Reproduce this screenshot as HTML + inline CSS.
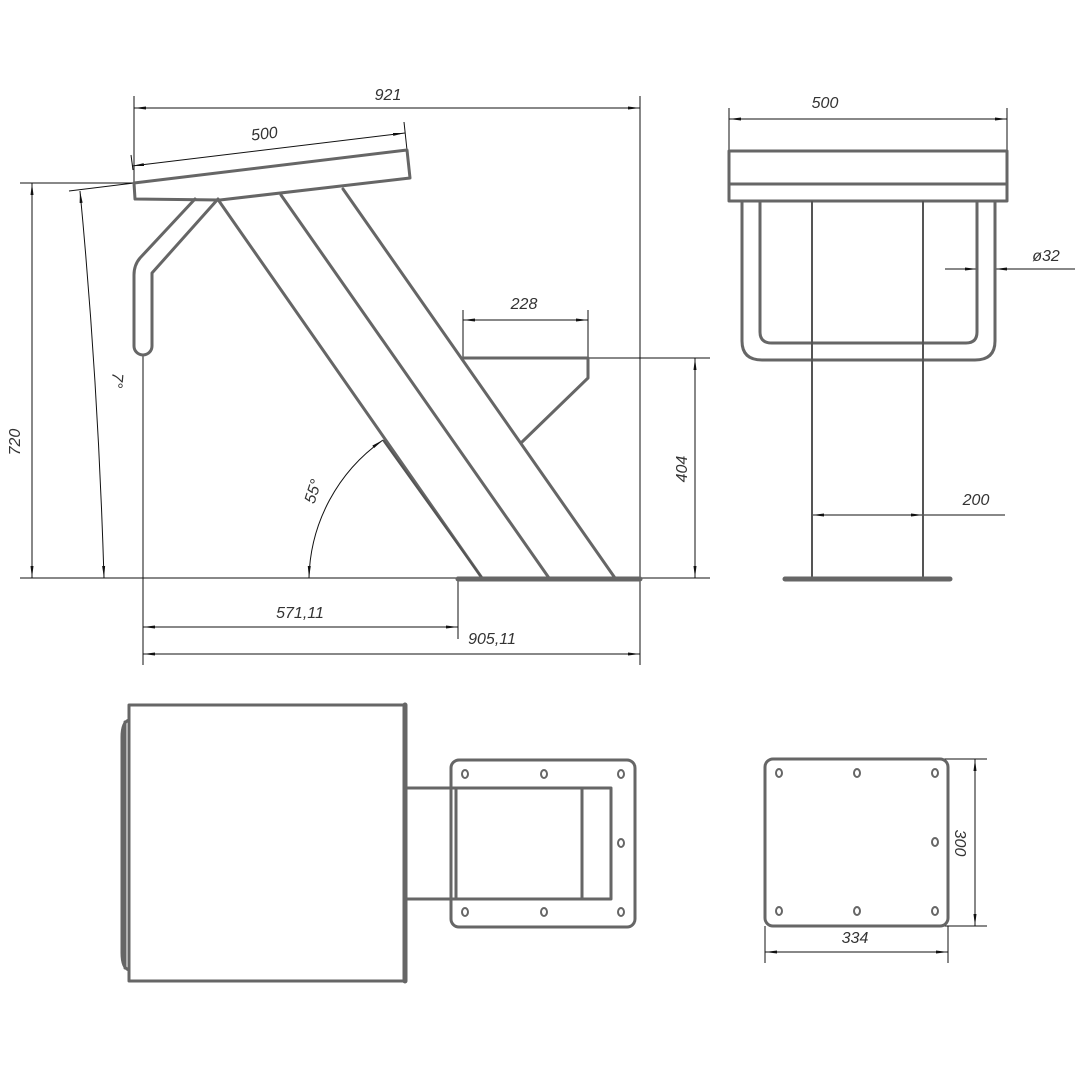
<!DOCTYPE html>
<html><head><meta charset="utf-8"><style>
html,body{margin:0;padding:0;background:#fff}
svg{display:block}
text{font-family:"Liberation Sans",sans-serif;font-style:italic;font-size:16px;fill:#333}
</style></head><body>
<svg width="1080" height="1080" viewBox="0 0 1080 1080" xmlns="http://www.w3.org/2000/svg">
<defs>
<marker id="a" viewBox="0 0 12 4" refX="12" refY="2" markerWidth="12" markerHeight="4" orient="auto-start-reverse" markerUnits="userSpaceOnUse"><path d="M0,0.5 L12,2 L0,3.5z" fill="#111"/></marker>
</defs>
<rect width="1080" height="1080" fill="#fff"/>
<!-- thin dimension lines -->
<g stroke="#111" stroke-width="1" fill="none">
<!-- 921 -->
<line x1="134" y1="96" x2="134" y2="183"/>
<line x1="640" y1="96" x2="640" y2="665"/>
<line x1="134" y1="108" x2="640" y2="108" marker-start="url(#a)" marker-end="url(#a)"/>
<!-- 500 slanted -->
<line x1="131" y1="155" x2="133" y2="170"/>
<line x1="404" y1="122" x2="407" y2="150"/>
<line x1="132" y1="166" x2="405" y2="133" marker-start="url(#a)" marker-end="url(#a)"/>
<!-- 720 -->
<line x1="20" y1="183" x2="134" y2="183"/>
<line x1="20" y1="578" x2="640" y2="578"/>
<line x1="32" y1="183" x2="32" y2="578" marker-start="url(#a)" marker-end="url(#a)"/>
<!-- 7 deg -->
<line x1="69" y1="191" x2="134" y2="183"/>
<path d="M80,191 Q98,380 104,578" marker-start="url(#a)" marker-end="url(#a)"/>
<!-- vertical ext from handle -->
<line x1="143" y1="354" x2="143" y2="665"/>
<!-- 55 deg -->
<path d="M309,578 A173,173 0 0 1 383,440" marker-start="url(#a)" marker-end="url(#a)"/>
<!-- 571,11 -->
<line x1="458" y1="578" x2="458" y2="639"/>
<line x1="143" y1="627" x2="458" y2="627" marker-start="url(#a)" marker-end="url(#a)"/>
<!-- 905,11 -->
<line x1="143" y1="654" x2="640" y2="654" marker-start="url(#a)" marker-end="url(#a)"/>
<!-- 228 -->
<line x1="463" y1="310" x2="463" y2="358"/>
<line x1="588" y1="310" x2="588" y2="358"/>
<line x1="463" y1="320" x2="588" y2="320" marker-start="url(#a)" marker-end="url(#a)"/>
<!-- 404 -->
<line x1="588" y1="358" x2="710" y2="358"/>
<line x1="640" y1="578" x2="710" y2="578"/>
<line x1="695" y1="358" x2="695" y2="578" marker-start="url(#a)" marker-end="url(#a)"/>
<!-- right view 500 -->
<line x1="729" y1="108" x2="729" y2="150"/>
<line x1="1007" y1="108" x2="1007" y2="150"/>
<line x1="729" y1="119" x2="1007" y2="119" marker-start="url(#a)" marker-end="url(#a)"/>
<!-- phi32 -->
<line x1="945" y1="269" x2="977" y2="269" marker-end="url(#a)"/>
<line x1="1075" y1="269" x2="995" y2="269" marker-end="url(#a)"/>
<line x1="1030" y1="269" x2="1075" y2="269"/>
<!-- 200 -->
<line x1="812" y1="507" x2="812" y2="578"/>
<line x1="923" y1="507" x2="923" y2="578"/>
<line x1="812" y1="515" x2="923" y2="515" marker-start="url(#a)" marker-end="url(#a)"/>
<line x1="923" y1="515" x2="1005" y2="515"/>
<!-- 300 -->
<line x1="935" y1="759" x2="987" y2="759"/>
<line x1="935" y1="926" x2="987" y2="926"/>
<line x1="975" y1="759" x2="975" y2="926" marker-start="url(#a)" marker-end="url(#a)"/>
<!-- 334 -->
<line x1="765" y1="926" x2="765" y2="963"/>
<line x1="948" y1="926" x2="948" y2="963"/>
<line x1="765" y1="952" x2="948" y2="952" marker-start="url(#a)" marker-end="url(#a)"/>
</g>

<!-- part outlines -->
<g stroke="#666" stroke-width="3" fill="none" stroke-linejoin="round" stroke-linecap="round">
<!-- seat -->
<path d="M134,183 L407,150 L410,178 L220,200 L135,199 Z"/>
<!-- handle -->
<path d="M195,199 L140,258 Q134,265 134,275 L134,346 A9,9 0 0 0 152,346 L152,273 L218,199"/>
<!-- legs -->
<line x1="219" y1="201" x2="482" y2="578"/>
<line x1="281" y1="195" x2="549" y2="578"/>
<line x1="343" y1="189" x2="615" y2="578"/>
<!-- footrest -->
<path d="M463,358 L588,358 L588,378 L522,442"/>
<!-- right view -->
<rect x="729" y="151" width="278" height="50"/>
<line x1="729" y1="184" x2="1007" y2="184"/>
<path d="M742,201 L742,341 Q742,360 762,360 L975,360 Q995,360 995,341 L995,201"/>
<path d="M760,201 L760,332 Q760,343 772,343 L966,343 Q977,343 977,332 L977,201"/>
<!-- bottom view -->
<rect x="129" y="705" width="276" height="276"/>
<path d="M129,720 Q122,722 122,737 L122,953 Q122,968 129,970"/>
<line x1="125" y1="722" x2="125" y2="968"/>
<rect x="451" y="760" width="184" height="167" rx="8"/>
<rect x="405" y="788" width="206" height="111"/>
<line x1="456" y1="788" x2="456" y2="899"/>
<line x1="582" y1="788" x2="582" y2="899"/>
<rect x="765" y="759" width="183" height="167" rx="8"/>
</g>
<g stroke="#555" stroke-width="2" fill="none">
<line x1="812" y1="201" x2="812" y2="578"/>
<line x1="923" y1="201" x2="923" y2="578"/>
<line x1="383" y1="440" x2="482" y2="578"/>
</g>
<g stroke="#666" stroke-width="5" stroke-linecap="round">
<line x1="458" y1="579" x2="640" y2="579"/>
<line x1="785" y1="579" x2="950" y2="579"/>
<line x1="405" y1="705" x2="405" y2="981"/>
</g>
<!-- holes -->
<g stroke="#666" stroke-width="2" fill="#fff">
<ellipse cx="465" cy="774" rx="3" ry="4"/><ellipse cx="544" cy="774" rx="3" ry="4"/><ellipse cx="621" cy="774" rx="3" ry="4"/>
<ellipse cx="621" cy="843" rx="3" ry="4"/>
<ellipse cx="465" cy="912" rx="3" ry="4"/><ellipse cx="544" cy="912" rx="3" ry="4"/><ellipse cx="621" cy="912" rx="3" ry="4"/>
<ellipse cx="779" cy="773" rx="3" ry="4"/><ellipse cx="857" cy="773" rx="3" ry="4"/><ellipse cx="935" cy="773" rx="3" ry="4"/>
<ellipse cx="935" cy="842" rx="3" ry="4"/>
<ellipse cx="779" cy="911" rx="3" ry="4"/><ellipse cx="857" cy="911" rx="3" ry="4"/><ellipse cx="935" cy="911" rx="3" ry="4"/>
</g>
<!-- labels -->
<text x="388" y="100" text-anchor="middle">921</text>
<text x="265" y="139" text-anchor="middle" transform="rotate(-7 265 139)">500</text>
<text x="20" y="442" text-anchor="middle" transform="rotate(-90 20 442)">720</text>
<text x="112" y="380" text-anchor="middle" transform="rotate(95 112 380)">7°</text>
<text x="318" y="493" text-anchor="middle" transform="rotate(-72 318 493)">55°</text>
<text x="300" y="618" text-anchor="middle">571,11</text>
<text x="492" y="644" text-anchor="middle">905,11</text>
<text x="524" y="309" text-anchor="middle">228</text>
<text x="687" y="469" text-anchor="middle" transform="rotate(-90 687 469)">404</text>
<text x="825" y="108" text-anchor="middle">500</text>
<text x="1046" y="261" text-anchor="middle">ø32</text>
<text x="976" y="505" text-anchor="middle">200</text>
<text x="955" y="843" text-anchor="middle" transform="rotate(90 955 843)">300</text>
<text x="855" y="943" text-anchor="middle">334</text>
</svg>
</body></html>
